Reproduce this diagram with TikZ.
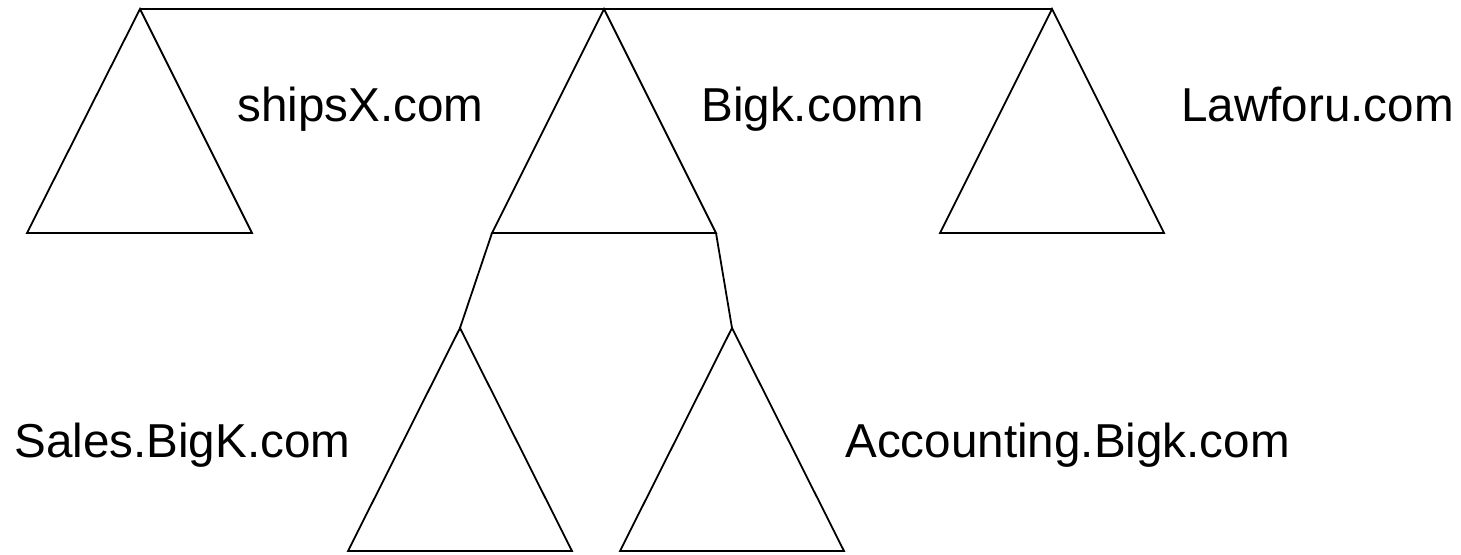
\documentclass[tikz,border=0pt]{standalone}
\usepackage{fontspec}
\setmainfont{Liberation Sans}
\begin{document}
\begin{tikzpicture}[x=0.5pt,y=-0.5pt,
  tri/.style={draw=black,line width=0.9pt,line join=miter},
  link/.style={draw=black,line width=0.9pt},
  toplink/.style={draw=black,line width=1.4pt},
  lbl/.style={anchor=base west,inner sep=0pt,font=\fontsize{23.8}{28}\selectfont}]
\useasboundingbox (0,0) rectangle (1461,554);
% domain triangles: apex, left base corner, right base corner
\coordinate (shipsA) at (140,9);   \coordinate (shipsL) at (27,233);  \coordinate (shipsR) at (252,233);
\coordinate (bigA) at (604,9);     \coordinate (bigL) at (492,233);   \coordinate (bigR) at (716,233);
\coordinate (lawA) at (1052,9);    \coordinate (lawL) at (940,233);   \coordinate (lawR) at (1164,233);
\coordinate (salesA) at (460,328); \coordinate (salesL) at (348,551); \coordinate (salesR) at (572,551);
\coordinate (accA) at (732,328);   \coordinate (accL) at (620,551);   \coordinate (accR) at (844,551);
\foreach \t in {ships,big,law,sales,acc}
  \draw[tri] (\t A) -- (\t R) -- (\t L) -- cycle;
% root line joining the top-level domains
\draw[toplink] (shipsA) -- (lawA);
% child domains hang from the base corners
\draw[link] (bigL) -- (salesA);
\draw[link] (bigR) -- (accA);
% labels
\node[lbl] (tShips) at (237,121) {shipsX.com};
\node[lbl] (tBig) at (701,121) {Bigk.comn};
\node[lbl] (tLaw) at (1181,121) {Lawforu.com};
\node[lbl] (tSales) at (14,457) {Sales.BigK.com};
\node[lbl] (tAcc) at (845,457) {Accounting.Bigk.com};
\end{tikzpicture}
\end{document}
